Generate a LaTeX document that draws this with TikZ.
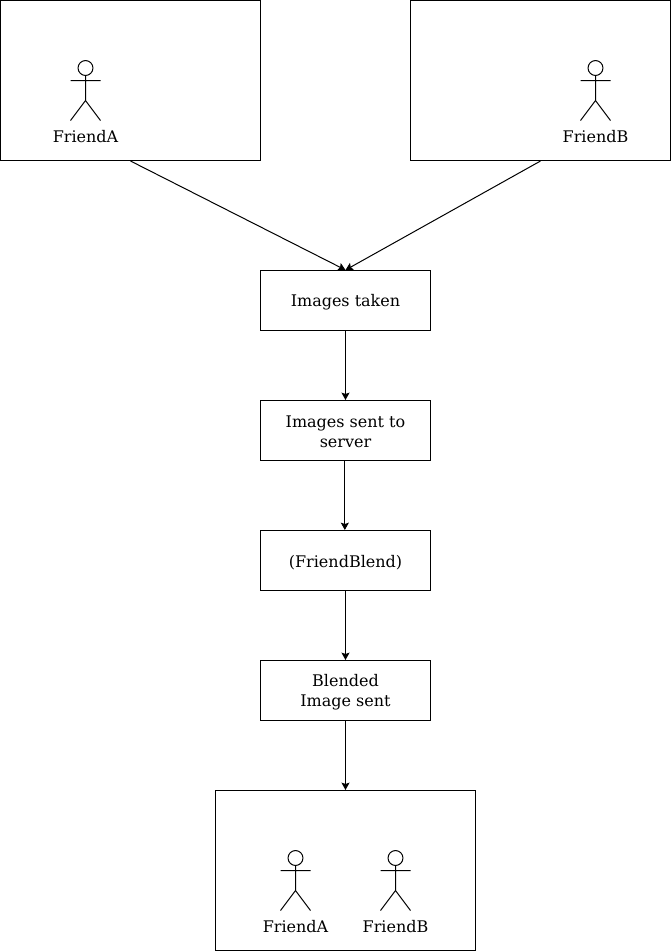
\documentclass[tikz,border=0pt]{standalone}
\usepackage{fontspec}
\setmainfont{DejaVu Serif}
\usetikzlibrary{positioning,arrows.meta}
\tikzset{
  px/.style={x=0.75pt,y=-0.75pt},
  stepbox/.style={draw,minimum width=127.5pt,minimum height=45pt,inner sep=0pt,align=center,font=\fontsize{12pt}{15pt}\selectfont},
  groupbox/.style={draw,minimum width=195pt,minimum height=120pt,inner sep=0pt},
  actorname/.style={inner sep=0pt,font=\fontsize{12pt}{15pt}\selectfont},
  flow/.style={-{Stealth[length=5.5pt,width=6pt,inset=1pt]},line width=0.75pt},
}
% same height and depth for every line of a box
\newcommand{\ls}{\rule[-2.2pt]{0pt}{14.2pt}}
% stick figure: head top at (#1,#2) in pixels
\newcommand{\stickman}[2]{
  \draw (#1,#2+7.5) circle[radius=5.6pt];
  \draw (#1,#2+15) -- (#1,#2+40) (#1-15,#2+20) -- (#1+15,#2+20)
    (#1-15,#2+60) -- (#1,#2+40) -- (#1+15,#2+60);
}
\begin{document}
\begin{tikzpicture}[px,line width=0.75pt]
  \useasboundingbox (0,0) rectangle (671,951);

  % Top boxes
  \node[groupbox] (boxA) at (130.5,80.5) {};
  \node[groupbox] (boxB) at (540.5,80.5) {};

  % Steps
  \node[stepbox] (taken) at (345.5,300.5) {\ls Images taken};
  \node[stepbox] (sent) at (345.5,430.5) {\ls Images sent to\\\ls server};
  \node[stepbox] (blend) at (345.5,560.5) {\ls (FriendBlend)};
  \node[stepbox] (blended) at (345.5,690.5) {\ls Blended\\\ls Image sent};

  % Bottom box
  \node[groupbox] (boxC) at (345.5,870.5) {};

  % Actors
  \stickman{85.5}{60.5}
  \node[actorname] (nameA) at (85.5,137) {FriendA};
  \stickman{595.5}{60.5}
  \node[actorname] (nameB) at (595.5,137) {FriendB};
  \stickman{295.5}{850.5}
  \node[actorname] (nameC) at (295.5,927) {FriendA};
  \stickman{395.5}{850.5}
  \node[actorname] (nameD) at (395.5,927) {FriendB};

  % Flow
  \draw[flow] (boxA.south) -- (taken.north);
  \draw[flow] (boxB.south) -- (taken.north);
  \draw[flow] (taken) -- (sent);
  \draw[flow] ([xshift=-0.5pt]sent.south) -- ([xshift=-0.5pt]blend.north);
  \draw[flow] (blend) -- (blended);
  \draw[flow] (blended) -- (boxC);
\end{tikzpicture}
\end{document}
